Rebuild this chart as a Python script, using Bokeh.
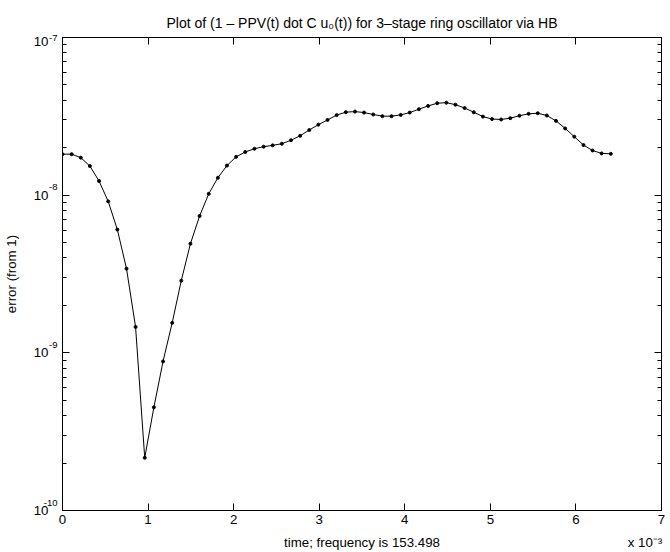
from bokeh.plotting import figure
from bokeh.models import (Range1d, FixedTicker, LogAxis, LinearAxis, LogScale,
                          CustomJSTickFormatter)
from bokeh.embed import file_html
from bokeh.resources import INLINE

# ---- data (time in units of 1e-3 s, error from 1) ----
t_ms = [0.000, 0.107, 0.214, 0.320, 0.427, 0.534, 0.641, 0.748, 0.854, 0.961,
        1.068, 1.175, 1.282, 1.388, 1.495, 1.602, 1.709, 1.816, 1.922, 2.029,
        2.136, 2.243, 2.350, 2.456, 2.563, 2.670, 2.777, 2.884, 2.990, 3.097,
        3.204, 3.311, 3.418, 3.524, 3.631, 3.738, 3.845, 3.952, 4.058, 4.165,
        4.272, 4.379, 4.486, 4.592, 4.699, 4.806, 4.913, 5.020, 5.126, 5.233,
        5.340, 5.447, 5.554, 5.660, 5.767, 5.874, 5.981, 6.088, 6.194, 6.301,
        6.408]
err = [1.82e-8, 1.82e-8, 1.73e-8, 1.53e-8, 1.23e-8, 9.13e-9, 6.05e-9, 3.42e-9, 1.46e-9, 2.16e-10,
       4.51e-10, 8.82e-10, 1.55e-9, 2.87e-9, 4.92e-9, 7.38e-9, 1.02e-8, 1.29e-8, 1.54e-8, 1.75e-8,
       1.88e-8, 1.97e-8, 2.03e-8, 2.07e-8, 2.12e-8, 2.23e-8, 2.38e-8, 2.59e-8, 2.80e-8, 3.00e-8,
       3.22e-8, 3.36e-8, 3.39e-8, 3.34e-8, 3.25e-8, 3.17e-8, 3.17e-8, 3.23e-8, 3.34e-8, 3.51e-8,
       3.68e-8, 3.83e-8, 3.86e-8, 3.75e-8, 3.57e-8, 3.36e-8, 3.15e-8, 3.04e-8, 3.02e-8, 3.08e-8,
       3.19e-8, 3.28e-8, 3.31e-8, 3.20e-8, 2.96e-8, 2.65e-8, 2.35e-8, 2.08e-8, 1.92e-8, 1.84e-8,
       1.83e-8]

x_ticks = [0, 1, 2, 3, 4, 5, 6, 7]
y_ticks = [1e-10, 1e-9, 1e-8, 1e-7]
y_tick_base = ["10", "10", "10", "10"]
y_tick_exps = ["-10", "-9", "-8", "-7"]
title_text = "Plot of (1 \u2013 PPV(t) dot C u\u2080(t)) for 3\u2013stage ring oscillator via HB"
x_label = "time; frequency is 153.498"
x_mult = "x 10\u207b\u00b3"
y_label = "error (from 1)"

# text placement (x data positions of the bottom texts, label shifts in px)
bottom_text_pos = [3.5, 6.807]
bottom_texts = [x_label, x_mult]
EXP_RAISE_PX = 8
TOP_DROP_PX = 4

FONT = "Liberation Sans"
FS = "13.3px"
TFS = "14px"
SUP = "9.5px"

y_minor = [k * 10.0 ** e for e in (-10, -9, -8) for k in range(2, 10)]

W, H = 670, 552
ML, MR, MT, MB = 62, 9, 37, 38
frame_h = H - MT - MB
up = EXP_RAISE_PX / frame_h * 3.0     # decades
down = TOP_DROP_PX / frame_h * 3.0    # decades

p = figure(width=W, height=H, x_range=Range1d(0, 7), y_range=Range1d(1e-10, 1e-7),
           y_axis_type="log", output_backend="svg", toolbar_location=None,
           min_border_left=ML, min_border_right=MR, min_border_top=MT, min_border_bottom=MB)
p.extra_y_ranges = {"exp": Range1d(1e-10 * 10 ** (-up), 1e-7 * 10 ** (-up)),
                    "down": Range1d(1e-10 * 10 ** down, 1e-7 * 10 ** down)}
p.extra_y_scales = {"exp": LogScale(), "down": LogScale()}
p.background_fill_color = "white"
p.border_fill_color = "white"
p.outline_line_color = "black"
p.outline_line_width = 1
p.xgrid.visible = False
p.ygrid.visible = False

p.title.text = title_text
p.title.align = "center"
p.title.text_font = FONT
p.title.text_font_size = TFS
p.title.text_font_style = "normal"
p.title.text_color = "black"
p.title.standoff = 14

empty = CustomJSTickFormatter(code="return ''")

def log_lookup(vals, labels):
    return CustomJSTickFormatter(args=dict(vals=vals, labs=labels), code="""
const i = vals.findIndex(v => Math.abs(Math.log10(v) - Math.log10(tick)) < 1e-6);
return i >= 0 ? labs[i] : '';
""")

def hide_lines(ax):
    ax.axis_line_color = None
    ax.major_tick_line_color = None
    ax.minor_tick_line_color = None

def style_x(ax):
    ax.ticker = FixedTicker(ticks=x_ticks, minor_ticks=[])
    ax.major_tick_in = 7
    ax.major_tick_out = 0
    ax.minor_tick_line_color = None
    ax.axis_line_color = "black"
    ax.major_tick_line_color = "black"

def style_y_ticks(ax):
    ax.ticker = FixedTicker(ticks=y_ticks, minor_ticks=y_minor)
    ax.major_tick_in = 7
    ax.major_tick_out = 0
    ax.minor_tick_in = 4
    ax.minor_tick_out = 0
    ax.axis_line_color = "black"
    ax.major_tick_line_color = "black"
    ax.minor_tick_line_color = "black"

def no_labels(ax):
    ax.formatter = empty
    ax.major_label_text_font_size = "0px"
    ax.major_label_standoff = 0

def text_labels(ax, size, standoff):
    ax.major_label_text_font = FONT
    ax.major_label_text_font_size = size
    ax.major_label_text_color = "black"
    ax.major_label_standoff = standoff

# bottom: tick labels 0..7
xa = p.xaxis[0]
style_x(xa)
text_labels(xa, FS, 4)

# bottom, second row: x label and multiplier
xb = LinearAxis()
hide_lines(xb)
xb.ticker = FixedTicker(ticks=bottom_text_pos, minor_ticks=[])
xb.formatter = CustomJSTickFormatter(args=dict(vals=bottom_text_pos, labs=bottom_texts), code="""
const i = vals.findIndex(v => Math.abs(v - tick) < 1e-6);
return i >= 0 ? labs[i] : '';
""")
text_labels(xb, FS, 2)
p.add_layout(xb, "below")

# left: ticks + "10" labels (lower three decades)
ya = p.yaxis[0]
style_y_ticks(ya)
ya.formatter = log_lookup(y_ticks[:-1], y_tick_base[:-1])
text_labels(ya, FS, 14)

# left: raised exponents (lower three decades)
ye = LogAxis(y_range_name="exp")
hide_lines(ye)
ye.ticker = FixedTicker(ticks=y_ticks[:-1], minor_ticks=[])
ye.formatter = log_lookup(y_ticks[:-1], y_tick_exps[:-1])
text_labels(ye, SUP, -33)
p.add_layout(ye, "left")

# left: top decade exponent (at frame top)
ye2 = LogAxis()
hide_lines(ye2)
ye2.ticker = FixedTicker(ticks=y_ticks[-1:], minor_ticks=[])
ye2.formatter = log_lookup(y_ticks[-1:], y_tick_exps[-1:])
text_labels(ye2, SUP, -33)
p.add_layout(ye2, "left")

# left: top decade "10" (dropped slightly, as in the original)
ya2 = LogAxis(y_range_name="down")
hide_lines(ya2)
ya2.ticker = FixedTicker(ticks=y_ticks[-1:], minor_ticks=[])
ya2.formatter = log_lookup(y_ticks[-1:], y_tick_base[-1:])
text_labels(ya2, FS, -24)
p.add_layout(ya2, "left")

# left: axis label
yl = LogAxis()
hide_lines(yl)
no_labels(yl)
yl.ticker = FixedTicker(ticks=y_ticks, minor_ticks=[])
yl.axis_label = y_label
yl.axis_label_text_font = FONT
yl.axis_label_text_font_size = FS
yl.axis_label_text_font_style = "normal"
yl.axis_label_text_color = "black"
yl.axis_label_standoff = 6
p.add_layout(yl, "left")

top_ax = LinearAxis()
style_x(top_ax)
no_labels(top_ax)
p.add_layout(top_ax, "above")

right_ax = LogAxis()
style_y_ticks(right_ax)
no_labels(right_ax)
p.add_layout(right_ax, "right")

p.line(t_ms, err, line_color="black", line_width=1)
p.scatter(t_ms, err, size=3, color="black", marker="circle")

open("out.html", "w").write(file_html(p, INLINE))
